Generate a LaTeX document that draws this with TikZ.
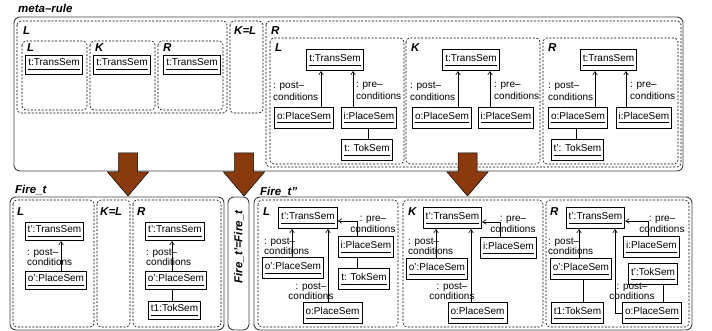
\documentclass[tikz,border=0pt]{standalone}
\usepackage{fontspec}
\setmainfont{Liberation Sans}
\usetikzlibrary{arrows.meta}
\definecolor{brn}{RGB}{139,58,14}
\newcommand\ulx[1]{\underline{#1\vphantom{g}}}
\begin{document}
\begin{tikzpicture}[x=1pt,y=-1pt,
  obj/.style={draw, line width=0.9pt, inner xsep=2.5pt, inner ysep=0pt, minimum height=21pt, font=\fontsize{10}{12}\selectfont},
  objs/.style={obj, minimum height=18pt},
  lbl/.style={inner sep=0pt, align=left, font=\fontsize{10}{12}\selectfont},
  lblb/.style={inner sep=0pt, align=left, font=\fontsize{10}{10}\selectfont},
  lblc/.style={inner sep=0pt, align=center, font=\fontsize{10}{11}\selectfont},
  lbld/.style={inner sep=0pt, align=center, font=\fontsize{10}{8.5}\selectfont},
  ttl/.style={inner sep=0pt, anchor=base west, font=\fontsize{11.5}{13}\selectfont\bfseries\itshape},
  dbox/.style={draw, line width=0.6pt, dash pattern=on 2pt off 1.6pt, rounded corners=4pt},
  sbox/.style={draw=black!75, line width=0.9pt, rounded corners=6pt},
  arr/.style={draw, line width=0.6pt, -{Straight Barb[length=3.5pt,width=4.5pt]}},
  ln/.style={draw, line width=0.6pt},
  bigarrow/.style={fill=brn, draw=black, line width=0.5pt}]
\useasboundingbox (0,0) rectangle (712,331);

% ===== meta-rule =====
\node[ttl] (tmeta) at (18,13) {meta--rule};
\draw[sbox] (14,17) rectangle (683,171);
% L
\draw[dbox] (17,21) rectangle (227,113);
\node[ttl] (tL0) at (23,35) {L};
\draw[dbox] (22,41) rectangle (87,110);
\node[ttl] (tL1) at (27,52) {L};
\draw[dbox] (90,41) rectangle (155,110);
\node[ttl] (tK1) at (95,52) {K};
\draw[dbox] (158,41) rectangle (223,110);
\node[ttl] (tR1) at (163,52) {R};
\node[obj, minimum height=19pt] (m1) at (54,64.5) {\ulx{t:TransSem}};
\node[obj, minimum height=19pt] (m2) at (122,64.5) {\ulx{t:TransSem}};
\node[obj, minimum height=19pt] (m3) at (192,64.5) {\ulx{t:TransSem}};
% K=L
\draw[dbox] (230,21) rectangle (263,113);
\node[ttl] (tKL0) at (234,35) {K=L};
% R
\draw[dbox] (266,21) rectangle (681,167);
\node[ttl] (tR0) at (271,35) {R};

% R / L
\draw[dbox] (270,38) rectangle (404,164);
\node[ttl] (tL2) at (275,52) {L};
\node[obj] (aT) at (335,60) {\ulx{t:TransSem}};
\node[obj] (aO) at (304,117.5) {\ulx{o:PlaceSem}};
\node[obj] (aI) at (369,117.5) {\ulx{i:PlaceSem}};
\node[obj] (aK) at (367,150) {\ulx{t: TokSem}};
\coordinate (ax1) at (321,0);
\coordinate (ax2) at (353,0);
\coordinate (ax3) at (368,0);
\draw[arr] (aO.north -| ax1) -- (aT.south -| ax1);
\draw[arr] (aI.north -| ax2) -- (aT.south -| ax2);
\draw[ln] (aI.south -| ax3) -- (aK.north -| ax3);
\node[lbl, anchor=west] (aL1) at (273,91) {: post--\\conditions};
\node[lbl, anchor=west] (aL2) at (356,91) {: pre--\\conditions};

% R / K
\draw[dbox] (406,38) rectangle (540,164);
\node[ttl] (tK2) at (411,52) {K};
\node[obj] (bT) at (471,60) {\ulx{t:TransSem}};
\node[obj] (bO) at (442,117.5) {\ulx{o:PlaceSem}};
\node[obj] (bI) at (506,117.5) {\ulx{i:PlaceSem}};
\coordinate (bx1) at (458,0);
\coordinate (bx2) at (490,0);
\draw[arr] (bO.north -| bx1) -- (bT.south -| bx1);
\draw[arr] (bI.north -| bx2) -- (bT.south -| bx2);
\node[lbl, anchor=west] (bL1) at (410,91) {: post--\\conditions};
\node[lbl, anchor=west] (bL2) at (494,91) {: pre--\\conditions};

% R / R
\draw[dbox] (543,38) rectangle (678,164);
\node[ttl] (tR2) at (548,52) {R};
\node[obj] (cT) at (608.5,60) {\ulx{t:TransSem}};
\node[obj] (cO) at (578,117.5) {\ulx{o:PlaceSem}};
\node[obj] (cI) at (644,117.5) {\ulx{i:PlaceSem}};
\node[obj] (cK) at (577.5,150) {\ulx{t': TokSem}};
\coordinate (cx1) at (595,0);
\coordinate (cx2) at (626,0);
\coordinate (cx3) at (576,0);
\draw[arr] (cO.north -| cx1) -- (cT.south -| cx1);
\draw[arr] (cI.north -| cx2) -- (cT.south -| cx2);
\draw[ln] (cO.south -| cx3) -- (cK.north -| cx3);
\node[lbl, anchor=west] (cL1) at (548,91) {: post--\\conditions};
\node[lbl, anchor=west] (cL2) at (630,91) {: pre--\\conditions};

% ===== Fire_t =====
\node[ttl] (tF1) at (15,194) {Fire\_t};
\draw[sbox] (10,197) rectangle (224,330);
\draw[dbox] (13,200) rectangle (94,327);
\node[ttl] (tL3) at (17,215) {L};
\draw[dbox] (97,200) rectangle (130,327);
\node[ttl] (tKL3) at (100,215) {K=L};
\draw[dbox] (133,200) rectangle (221,327);
\node[ttl] (tR3) at (137,215) {R};
\node[objs] (dT) at (54.5,231.5) {\ulx{t':TransSem}};
\node[objs] (dO) at (56,280) {\ulx{o':PlaceSem}};
\coordinate (dx1) at (61,0);
\draw[arr] (dO.north -| dx1) -- (dT.south -| dx1);
\node[lblb, anchor=west] (dL1) at (27,257.5) {: post--\\conditions};
\node[objs] (eT) at (175,231.5) {\ulx{t':TransSem}};
\node[objs] (eO) at (176,280) {\ulx{o':PlaceSem}};
\node[objs] (eK) at (174.5,310) {\ulx{t1:TokSem}};
\coordinate (ex1) at (172,0);
\draw[arr] (eO.north -| ex1) -- (eT.south -| ex1);
\draw[ln] (eO.south -| ex1) -- (eK.north -| ex1);
\node[lblb, anchor=west] (eL1) at (146,257.5) {: post--\\conditions};

% ===== Fire_t'=Fire_t =====
\draw[sbox] (228,197) rectangle (249,330);
\node[ttl, anchor=center, rotate=90] (tF2) at (239,247) {Fire\_t'=Fire\_t};

% ===== Fire_t'' =====
\node[ttl] (tF3) at (260,196) {Fire\_t''};
\draw[sbox] (254,197) rectangle (692,330);
\draw[dbox] (258,200) rectangle (398,327);
\node[ttl] (tL4) at (263,215) {L};
\draw[dbox] (403,200) rectangle (543,327);
\node[ttl] (tK4) at (408,215) {K};
\draw[dbox] (546,200) rectangle (689,327);
\node[ttl] (tR4) at (550,215) {R};

% L
\node[obj] (fT) at (308,218) {\ulx{t':TransSem}};
\node[obj] (fI) at (366,247) {\ulx{i:PlaceSem}};
\node[obj] (fK) at (364,279) {\ulx{t: TokSem}};
\node[obj] (fP) at (293,268) {\ulx{o':PlaceSem}};
\node[obj] (fO) at (332.5,313) {\ulx{o:PlaceSem}};
\coordinate (fx1) at (292,0);
\coordinate (fx2) at (328,0);
\coordinate (fb) at (357,221);
\draw[arr] (fP.north -| fx1) -- (fT.south -| fx1);
\draw[arr] (fO.north -| fx2) -- (fT.south -| fx2);
\draw[arr] (fI.north -| fb) -- (fb) -- (fb -| fT.east);
\draw[ln] (fI.south -| fb) -- (fK.north -| fb);
\node[lblb, anchor=west] (fL1) at (264,246) {: post--\\conditions};
\node[lbld] (fL2) at (311,291) {: post--\\conditions};
\node[lblc] (fL3) at (373,224.5) {: pre--\\conditions};

% K
\node[obj] (gT) at (452.5,218) {\ulx{t':TransSem}};
\node[obj] (gI) at (508.5,248) {\ulx{i:PlaceSem}};
\node[obj] (gP) at (437,269) {\ulx{o':PlaceSem}};
\node[obj] (gO) at (477.5,313) {\ulx{o:PlaceSem}};
\coordinate (gx1) at (436,0);
\coordinate (gx2) at (471,0);
\coordinate (gb) at (500,222);
\draw[arr] (gP.north -| gx1) -- (gT.south -| gx1);
\draw[arr] (gO.north -| gx2) -- (gT.south -| gx2);
\draw[arr] (gI.north -| gb) -- (gb) -- (gb -| gT.east);
\node[lblb, anchor=west] (gL1) at (408,246) {: post--\\conditions};
\node[lbld] (gL2) at (452,291) {: post--\\conditions};
\node[lblc] (gL3) at (513,224.5) {: pre--\\conditions};

% R
\node[obj] (hT) at (595.5,218) {\ulx{t':TransSem}};
\node[obj] (hI) at (651.5,247) {\ulx{i:PlaceSem}};
\node[obj] (hK) at (653,274) {\ulx{t':TokSem}};
\node[obj] (hP) at (581,269) {\ulx{o':PlaceSem}};
\node[obj] (hJ) at (577.5,313) {\ulx{t1:TokSem}};
\node[obj] (hO) at (652,313) {\ulx{o:PlaceSem}};
\coordinate (hx1) at (579,0);
\coordinate (hx2) at (615,0);
\coordinate (hx3) at (583,0);
\coordinate (hx4) at (663,0);
\coordinate (hb) at (648,221);
\draw[arr] (hP.north -| hx1) -- (hT.south -| hx1);
\draw[arr] (hO.west) -- (hO.west -| hx2) -- (hT.south -| hx2);
\draw[arr] (hI.north -| hb) -- (hb) -- (hb -| hT.east);
\draw[ln] (hP.south -| hx3) -- (hJ.north -| hx3);
\draw[ln] (hK.south -| hx4) -- (hO.north -| hx4);
\node[lblb, anchor=west] (hL1) at (548,246) {: post--\\conditions};
\node[lbld] (hL2) at (632,291) {: post--\\conditions};
\node[lblc] (hL3) at (662,224.5) {: pre--\\conditions};

% ===== big arrows =====
\foreach \c in {128,244,467.5} {
  \filldraw[bigarrow] (\c-9.5,153) -- (\c+9.5,153) -- (\c+9.5,172) -- (\c+20.5,172)
    -- (\c,196) -- (\c-20.5,172) -- (\c-9.5,172) -- cycle;
}
\end{tikzpicture}
\end{document}
